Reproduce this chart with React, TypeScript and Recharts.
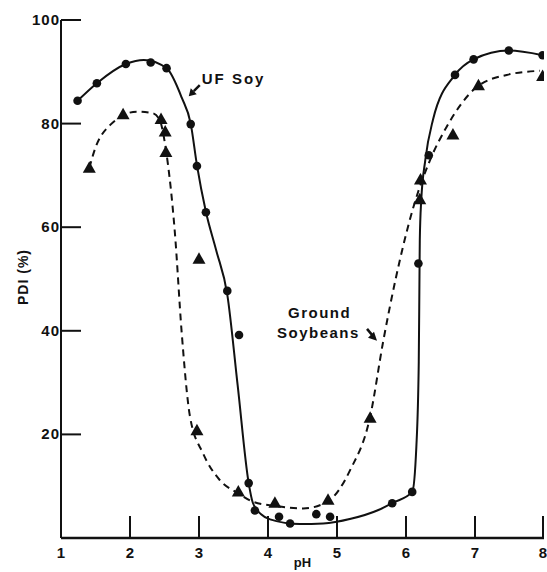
import React from 'react';
import { ComposedChart, Line, Scatter, XAxis, YAxis, ReferenceDot } from 'recharts';

const INK = '#111';
const FONT = '"Liberation Sans", Arial, Helvetica, sans-serif';

// pH axis and PDI axis ticks
const phTicks = [1, 2, 3, 4, 5, 6, 7, 8];
const pdiTicks = [20, 40, 60, 80, 100];

// measured points, UF Soy (circles)
const ufSoyPh = [1.24, 1.52, 1.94, 2.3, 2.53, 2.88, 2.97, 3.1, 3.41, 3.58, 3.72, 3.81, 4.16, 4.32, 4.7, 4.9, 5.8, 6.09, 6.18, 6.33, 6.71, 6.98, 7.49, 7.98];
const ufSoyPdi = [84.4, 87.8, 91.5, 91.8, 90.7, 79.9, 71.8, 62.9, 47.7, 39.2, 10.6, 5.3, 4.1, 2.8, 4.6, 4.1, 6.7, 8.9, 53.0, 73.9, 89.4, 92.4, 94.1, 93.2];

// measured points, ground soybeans (triangles)
const groundPh = [1.41, 1.9, 2.45, 2.51, 2.52, 3.0, 2.97, 3.57, 4.1, 4.87, 5.48, 6.2, 6.21, 6.68, 7.05, 7.98];
const groundPdi = [71.4, 81.7, 80.8, 78.4, 74.4, 53.8, 20.7, 8.9, 6.7, 7.3, 23.1, 65.3, 69.1, 77.8, 87.3, 89.1];

// hand-drawn fitted curves
const ufSoyCurvePh = [1.24, 1.52, 1.94, 2.2, 2.53, 2.75, 2.88, 2.97, 3.1, 3.25, 3.41, 3.56, 3.72, 3.78, 3.9, 4.03, 4.46, 4.8, 5.2, 5.6, 5.81, 6.09, 6.15, 6.185, 6.195, 6.2, 6.22, 6.28, 6.39, 6.71, 6.98, 7.49, 7.98];
const ufSoyCurvePdi = [84.4, 87.8, 91.5, 92.3, 90.7, 85, 80, 72, 63, 55.5, 47, 29.5, 10.6, 6.8, 4.6, 3.6, 2.7, 2.8, 3.7, 5.4, 6.8, 8.9, 17.6, 34, 50, 57.5, 65, 73, 80.7, 89.4, 92.4, 94.1, 93.2];

const groundCurvePh = [1.41, 1.49, 1.71, 2.1, 2.33, 2.43, 2.52, 2.65, 2.75, 2.87, 3.06, 3.3, 3.57, 3.78, 4.1, 4.51, 4.87, 5.19, 5.48, 5.67, 5.85, 6.11, 6.35, 6.59, 7.02, 7.46, 7.94];
const groundCurvePdi = [71.4, 75, 79.7, 82.3, 82, 80.7, 75, 59, 39.5, 23.4, 16.3, 11.2, 8.6, 7, 6.2, 5.7, 7.1, 13.1, 23.4, 38, 50, 64, 73, 79.4, 87, 89.4, 90.2];

const zip = (xs: number[], ys: number[]) => xs.map((x, i) => ({ x, y: ys[i] }));

const ufSoyPoints = zip(ufSoyPh, ufSoyPdi);
const groundPoints = zip(groundPh, groundPdi);
const ufSoyCurve = zip(ufSoyCurvePh, ufSoyCurvePdi);
const groundCurve = zip(groundCurvePh, groundCurvePdi);

const textStyle = { fontFamily: FONT, fontWeight: 700, fill: INK } as const;

const YTick = (props: any) => {
  const { x, y, payload } = props;
  return (
    <g>
      <line x1={x + 2} x2={x + 22} y1={y} y2={y} stroke={INK} strokeWidth={2} />
      <text x={x + 1} y={y} dy={5} textAnchor="end" fontSize={15} letterSpacing={1} {...textStyle}>
        {payload.value}
      </text>
    </g>
  );
};

const XTick = (props: any) => {
  const { x, y, payload } = props;
  return (
    <g>
      {payload.value !== 1 && <line x1={x} x2={x} y1={y} y2={y - 22} stroke={INK} strokeWidth={2} />}
      <text x={x} y={y + 20} textAnchor="middle" fontSize={15} {...textStyle}>
        {payload.value}
      </text>
    </g>
  );
};

const Circle = (props: any) => <circle cx={props.cx} cy={props.cy} r={4.3} fill={INK} />;

const Triangle = (props: any) => {
  const { cx, cy } = props;
  return <path d={`M${cx},${cy - 7} L${cx + 6.5},${cy + 4.5} L${cx - 6.5},${cy + 4.5} Z`} fill={INK} />;
};

const UfSoyNote = (props: any) => {
  const { cx, cy } = props;
  return (
    <g>
      <text x={cx} y={cy} fontSize={15} letterSpacing={2} {...textStyle}>UF Soy</text>
      <line x1={cx - 2} y1={cy + 1} x2={cx - 8} y2={cy + 7} stroke={INK} strokeWidth={2.5} />
      <path d={`M${cx - 13},${cy + 12} L${cx - 11},${cy + 4} L${cx - 5},${cy + 10} Z`} fill={INK} />
    </g>
  );
};

const GroundNote = (props: any) => {
  const { cx, cy } = props;
  return (
    <g>
      <text x={cx} y={cy} fontSize={15} letterSpacing={1.5} {...textStyle}>Ground</text>
      <text x={cx - 11} y={cy + 20} fontSize={15} letterSpacing={1.5} {...textStyle}>Soybeans</text>
      <line x1={cx + 79} y1={cy + 11} x2={cx + 84} y2={cy + 17} stroke={INK} strokeWidth={2.5} />
      <path d={`M${cx + 89},${cy + 23} L${cx + 80},${cy + 20} L${cx + 86},${cy + 14} Z`} fill={INK} />
    </g>
  );
};

export default function App() {
  return (
    <div style={{ position: 'absolute', left: 0, top: 0, background: '#fff' }}>
      <ComposedChart width={547} height={572} margin={{ top: 20, right: 3, bottom: 0, left: 0 }}>
        <XAxis
          type="number"
          dataKey="x"
          domain={[1, 8]}
          ticks={phTicks}
          allowDataOverflow
          height={34}
          tickSize={0}
          tickMargin={0}
          tickLine={false}
          tick={<XTick />}
          axisLine={{ stroke: INK, strokeWidth: 2.5 }}
          label={{
            content: (p: any) => (
              <text x={p.viewBox.x + p.viewBox.width / 2} y={p.viewBox.y + 29} textAnchor="middle" fontSize={13} {...textStyle}>
                pH
              </text>
            ),
          }}
        />
        <YAxis
          type="number"
          dataKey="y"
          domain={[0, 100]}
          ticks={pdiTicks}
          allowDataOverflow
          width={61}
          tickSize={0}
          tickMargin={2}
          tickLine={false}
          tick={<YTick />}
          axisLine={{ stroke: INK, strokeWidth: 2 }}
          label={{
            content: (p: any) => {
              const cx = p.viewBox.x + 23;
              const cy = p.viewBox.y + p.viewBox.height / 2 - 2;
              return (
                <text x={cx} y={cy} transform={`rotate(-90 ${cx} ${cy})`} dy={5} textAnchor="middle" fontSize={14} letterSpacing={1} {...textStyle}>
                  PDI (%)
                </text>
              );
            },
          }}
        />
        <Line data={groundCurve} dataKey="y" type="monotone" stroke={INK} strokeWidth={2} strokeDasharray="7 5" dot={false} activeDot={false} isAnimationActive={false} />
        <Line data={ufSoyCurve} dataKey="y" type="monotone" stroke={INK} strokeWidth={2} dot={false} activeDot={false} isAnimationActive={false} />
        <Scatter data={groundPoints} shape={<Triangle />} isAnimationActive={false} />
        <Scatter data={ufSoyPoints} shape={<Circle />} isAnimationActive={false} />
        <ReferenceDot x={3.04} y={87.6} r={0} shape={<UfSoyNote />} />
        <ReferenceDot x={4.29} y={42.5} r={0} shape={<GroundNote />} />
      </ComposedChart>
    </div>
  );
}
